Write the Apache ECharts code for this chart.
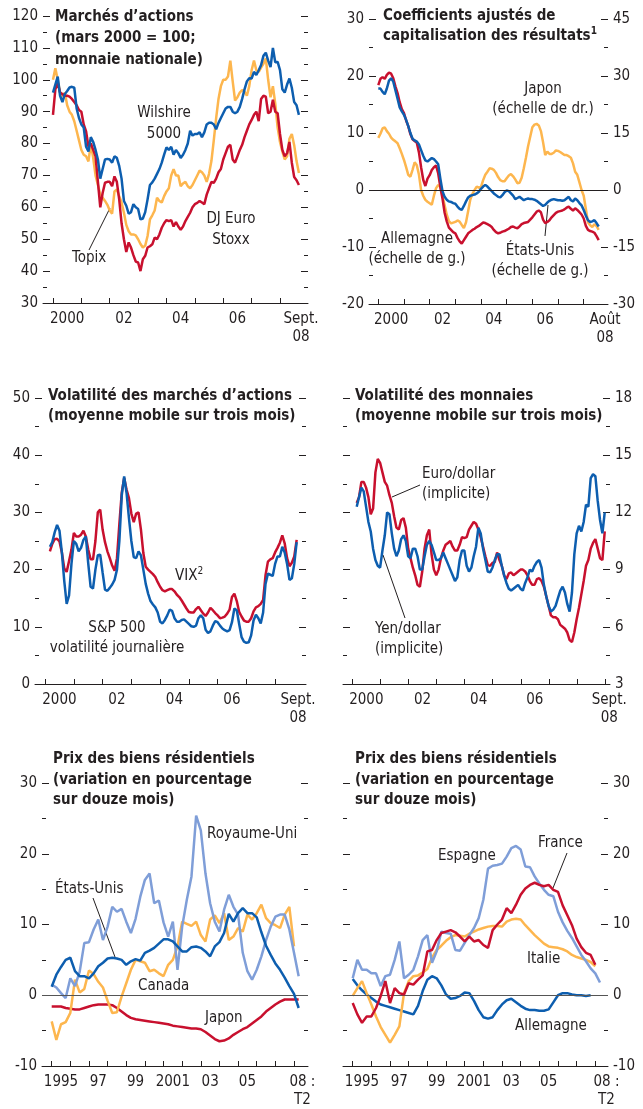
<!DOCTYPE html>
<html>
<head>
<meta charset="utf-8">
<script src="https://cdn.jsdelivr.net/npm/echarts@6/dist/echarts.min.js"></script>
<style>
html, body { margin: 0; padding: 0; background: #fff; }
#chart { width: 643px; height: 1109px; }
</style>
</head>
<body>
<div id="chart"></div>
<script>
// --- Marchés d'actions (mensuel, janv. 2000 - sept. 2008)
var wilshire = [
  96, 98.5, 101, 95, 93, 95.5, 96.5, 97.6, 97.8, 97.5, 91, 88,
  86, 85, 79, 77.5, 82, 80.5, 78, 75, 69, 72, 75, 75.2,
  75, 74, 76, 75.5, 73, 69, 62, 60.5, 58, 58.5, 61, 60,
  59.5, 56.2, 56.5, 58.5, 62.5, 67, 67.8, 69, 70.5, 72, 74, 76.5,
  78.8, 78, 79, 76.5, 78, 77, 75.5, 76.5, 78, 80, 84, 82.5,
  83, 83, 83.5, 82, 83.5, 86, 86.5, 86.5, 86, 84.5, 86.5, 88,
  89.5, 91, 91.5, 91.5, 90, 89.5, 90, 91.5, 94, 97, 99.5, 100.5,
  100.4, 102.5, 101.5, 103, 104.6, 107.5, 108.5, 106, 104, 110, 105.5, 105.6,
  103, 97, 96, 98.5, 100.4, 97.5, 93, 92, 89
];
var euroStoxx = [
  89, 97, 99, 96, 95.5, 95, 95, 94.7, 94, 93, 92, 90.5,
  90, 86, 83.8, 79, 80, 78, 76, 68, 60, 64.5, 67.7, 68,
  68, 66.6, 69.7, 68, 62.5, 55, 50, 46, 49, 47.4, 45, 43,
  42.7, 40, 43.7, 44.8, 47.4, 47.8, 48.4, 50.5, 50, 51.5, 53.6, 55,
  56, 55.7, 56, 54, 55.4, 54, 53, 54, 55.7, 57, 58.3, 60,
  61, 61.4, 62, 61.5, 61, 64, 66, 68, 67.7, 69, 71, 72,
  75, 77, 79, 79.6, 75, 74, 76, 78, 79.6, 82, 84, 86,
  87.4, 89, 90, 87, 94, 95, 94.7, 89.5, 90, 93.7, 90, 89.5,
  83, 78, 76, 77, 80.5, 74, 69.5, 68.5, 67
];
var topix = [
  100, 103.6, 100, 96, 94.7, 96, 92, 90, 89, 87, 84, 81,
  78, 76.5, 76, 74.4, 80, 75.5, 70, 67, 64, 63, 62, 60.8,
  59, 58, 65, 65.6, 63.5, 61.5, 58.3, 54.5, 52.5, 51.5, 51.5, 51.2,
  50, 48.5, 47.4, 48, 51, 56.2, 57.5, 59, 63, 62, 61.5, 63.5,
  65, 66, 70, 72, 70, 70, 66.6, 67.5, 68, 66.6, 66, 67,
  68.5, 70, 71.5, 71, 70, 68, 70.5, 74.5, 81, 88, 94, 98,
  100, 100, 101, 106, 99.5, 93.5, 94.5, 96, 96.8, 96.3, 95, 98,
  103, 106, 103, 102.5, 103.8, 105, 106.7, 100, 94.5, 98, 92.5, 85,
  80.5, 77.5, 75, 76, 81.5, 83, 79.5, 74.5, 70.8
];

// --- Coefficients ajustés de capitalisation (mensuel, janv. 2000 - août 2008)
var allemagneCap = [
  18.4, 19.5, 19.8, 19.5, 20.2, 20.6, 20.4, 19.6, 18.2, 17, 15.4, 14.2,
  13.5, 12.2, 11.2, 9.8, 8.9, 8.6, 8.3, 6.6, 4, 1.8, 0.7, 2,
  2.6, 3.5, 4, 4.3, 2.9, 0.5, -1.5, -4, -5.5, -6.6, -7, -7.4,
  -7.6, -8.4, -9, -9.4, -8.8, -8.2, -7.6, -7.3, -7, -6.8, -6.5, -6.3,
  -6, -5.7, -5.8, -6, -6.2, -6.5, -7, -7.4, -7.6, -7.5, -7.3, -7.2,
  -7, -6.8, -6.5, -6.4, -6.6, -6.7, -6.4, -6, -5.8, -5.7, -5.6, -5.2,
  -4.8, -4.3, -3.8, -3.6, -3.9, -5.2, -5.8, -5.6, -5.3, -4.8, -4.4, -4,
  -3.8, -3.7, -3.6, -3.4, -3.1, -2.9, -3.3, -3.6, -3.2, -3.5, -3.9, -4.3,
  -5, -6.3, -7, -7.2, -7.3, -7.5, -8.1, -8.8
];
var etatsUnisCap = [
  17.8, 17.8, 17.2, 16.8, 17.8, 19.2, 19.6, 19, 17.5, 16, 14.5, 13.8,
  13.2, 12.3, 11.2, 10, 9, 8.7, 8.5, 8, 7, 6, 5.2, 5,
  5.3, 5.6, 5.4, 5, 4.5, 2, -0.2, -1.2, -1.7, -2, -2.1, -2.3,
  -2.4, -2.9, -3.3, -3.5, -2.8, -2, -1.3, -1, -0.9, -0.8, -0.6, -0.3,
  0.2, 0.6, 0.9, 0.6, 0.2, -0.2, -0.6, -0.9, -1.2, -1.3, -0.9, -0.4,
  -0.1, -0.2, -0.6, -1, -1.6, -1.4, -1.2, -1.5, -1.8, -1.6, -1.5, -1.6,
  -1.6, -1.7, -1.9, -2.2, -2.5, -2.8, -2.6, -2.2, -1.9, -1.7, -1.6, -1.7,
  -1.8, -1.8, -1.9, -1.8, -1.5, -1.2, -1.8, -2, -1.5, -1.8, -2.3, -2.7,
  -3.5, -4.5, -5.3, -5.6, -5.5, -5.3, -5.8, -6.4
];
// Japon, échelle de droite
var japonCap = [
  13.7, 14.8, 16.2, 16.5, 15.5, 14.8, 13.8, 13.2, 12.8, 12.3, 11, 9.5,
  7.9, 6, 4, 3.5, 5.3, 7.3, 6.5, 4, 0, -1.5, -2.6, -3.1,
  -3.5, -3.9, -1.5, 0.5, 1.3, 0.8, -1.5, -4, -6.5, -8.2, -8.8, -8.6,
  -8.4, -8, -8.3, -9.2, -10, -8.5, -5.5, -2.5, -1, 0, 0.9, 0.6,
  0.8, 2.6, 4, 4.8, 5.7, 5.6, 5.3, 4.5, 3.4, 2.6, 2.3, 2.3,
  3.1, 3.8, 4.2, 3.6, 2.8, 1.8, 1.9, 3.2, 5.7, 8.5, 11.5, 14,
  16.5, 17.2, 17.4, 17, 15.5, 12.6, 9.2, 10.1, 9.5, 9.5, 9.8, 10.4,
  10.3, 10, 9.6, 9.2, 9.2, 8.9, 8.5, 7, 4.8, 4, 2, 0,
  -1.5, -5, -8.5, -9.3, -9.7, -9, -9.5, -10.5
];

// --- Volatilité des marchés d'actions (mensuel, à partir de mars 2000)
var vix = [
  23.2, 24.5, 25.3, 25.4, 24.9, 23, 20.2, 19.6, 21.5, 23.5, 26.4, 25.8,
  25.8, 26.1, 26.8, 25.8, 23.5, 21.8, 21.8, 25, 30, 30.5, 27, 24.8,
  23.2, 22, 20.7, 19.8, 22, 28, 33.5, 36, 34, 32.5, 29.8, 28.3,
  29.8, 30, 27, 22.9, 20.5, 20, 19.6, 19.2, 18.7, 17.8, 17, 16.4,
  16.2, 16.4, 16.6, 16.6, 16.2, 15.6, 15.2, 14.6, 13.9, 13.2, 12.6, 12.5,
  12.5, 13.1, 13.5, 12.9, 12.3, 11.9, 12.5, 13.3, 12.9, 12.4, 12, 11.5,
  11.6, 11.8, 12.3, 13, 15.2, 15.8, 14.5, 12.6, 11.8, 11.1, 10.9, 10.9,
  11.5, 12.7, 13.4, 13.6, 14, 14.7, 19, 21.4, 21.8, 22, 23, 23.8,
  24.7, 26, 24.6, 22, 20.6, 21.2, 22.3, 25.2
];
var sp500 = [
  24, 24.8, 26.5, 27.8, 26.8, 23, 18, 14, 15.5, 21, 25, 24.5,
  23.2, 23.8, 25.2, 25.8, 21.1, 17, 16.7, 20, 22.5, 22.6, 19.5, 16.5,
  16.3, 16.8, 17.4, 18.2, 20, 25, 33, 36.3, 33.4, 29, 25, 22.2,
  22, 23.2, 22.5, 20, 17.5, 15.8, 14.5, 13.9, 13.4, 12.5, 10.9, 10.6,
  11.2, 12, 13, 12.8, 11.5, 10.9, 10.9, 11.2, 11.3, 10.9, 10.5, 10.1,
  10, 10.2, 11.5, 12, 11.5, 9.5, 8.9, 9.2, 10.2, 11, 10.8, 10.2,
  9.7, 9.4, 9.2, 9.4, 10.8, 13.2, 12.9, 10.5, 8.2, 7.4, 7.2, 7.3,
  8.5, 11.1, 12.1, 11.5, 10.6, 12.5, 17.5, 19.3, 19.1, 18.9, 21, 22.3,
  22.3, 24, 23, 21, 18.2, 18.5, 21, 24.8
];

// --- Volatilité des monnaies (mensuel)
var euroDollar = [
  12.5, 12.8, 13.6, 13.6, 13.3, 12.8, 11.9, 12.2, 14.1, 14.8, 14.6, 14.1,
  13.6, 13.4, 12.9, 12.5, 11.8, 11.2, 11.1, 11.6, 11.7, 11.2, 10.1, 9.6,
  9.1, 8.7, 8.2, 8.1, 8.9, 10.1, 10.8, 11.1, 9.8, 9, 8.7, 9,
  9.6, 10, 10.3, 10.4, 10.5, 10.2, 10, 10, 10.3, 10.7, 10.65, 10.7,
  11.1, 11.3, 11.5, 11.4, 11.1, 10.7, 10.2, 9.7, 9.25, 9.2, 9.35, 9.4,
  9.9, 9.5, 9.2, 8.7, 8.5, 8.8, 8.85, 8.7, 8.8, 8.9, 9, 9,
  8.9, 8.7, 8.4, 8.2, 8.2, 8.5, 8.55, 8.4, 8.1, 7.6, 7.1, 6.6,
  6.5, 6.5, 6.4, 6.1, 6, 5.9, 5.7, 5.3, 5.2, 5.7, 6.4, 7,
  7.7, 8.4, 9.2, 9.5, 10.1, 10.4, 10.6, 10.1, 9.6, 9.5, 11
];
var yenDollar = [
  12.3, 12.8, 13.3, 13.1, 12.3, 11.5, 11, 10.1, 9.5, 9.2, 9.1, 10,
  10.8, 12, 11.9, 10.9, 10.1, 9.7, 10, 10.6, 10.8, 10.5, 9.7, 9.6,
  10.1, 10.1, 9.7, 9, 9, 9.7, 10.3, 10.5, 10.3, 9.9, 9.5, 9.5,
  9.6, 9.9, 9.6, 9.3, 9, 8.7, 8.4, 8.6, 9.5, 10, 10, 9.2,
  8.9, 9.1, 9.7, 10.2, 11.2, 10.9, 10.1, 9.5, 8.9, 8.85, 9.1, 9.5,
  9.8, 9.8, 9.2, 8.7, 8.3, 8, 7.9, 8, 8.1, 8.2, 8, 7.9,
  8.3, 8.6, 9, 8.9, 9.2, 9.4, 9.5, 9.1, 8.2, 7.6, 7.1, 6.8,
  6.9, 7.1, 7.5, 7.9, 8.1, 7.8, 7.2, 6.8, 7.8, 9.8, 10.9, 11.3,
  11, 11.5, 12.4, 12.3, 13.8, 14, 13.9, 12.6, 11.6, 10.9, 12
];

// --- Prix des biens résidentiels (trimestriel, T1 1995 - T2 2008)
var royaumeUni = [1.5, 1.1, 0.3, -0.4, 2.4, 1.3, 3.3, 7.4, 7.5, 9.3, 10.7, 7.8, 9.7, 12.5, 11.8, 12.2, 10.4, 8.8, 10.8, 13.9, 16.3, 17.2, 13, 13.4, 10.3, 8.3, 10.4, 3.6, 9.7, 13.5, 16.8, 25.4, 23.3, 17.2, 13, 10.4, 9, 12.1, 14.2, 12.5, 11.4, 6, 3.4, 2.2, 3.6, 5.5, 7.8, 9.7, 11.1, 11.4, 11.4, 9.3, 6, 2.7];
var canada = [-3.7, -6.3, -4.1, -3.8, -2.5, 2.2, 0.4, 0.9, 3.5, 3, 1.9, 1.1, -0.8, -2.5, -2.4, -0.2, 1.7, 3.6, 5, 4.8, 4.6, 3.4, 3.6, 3.1, 2.7, 4.3, 5, 6.9, 10.4, 10.1, 9.8, 10.4, 8.5, 7.6, 10.7, 11.3, 10.2, 11.6, 7.8, 8.3, 9.5, 9, 11.4, 10.7, 11.6, 12.8, 10.9, 10.2, 9.9, 9.5, 11.4, 12.5, 6.9];
var etatsUnisHP = [1.2, 2.9, 4, 5, 5.3, 3.4, 2.7, 2.7, 2.4, 3.1, 4.1, 4.6, 5.2, 5.3, 5.2, 5, 4.3, 4.8, 5.1, 4.9, 6, 6.3, 6.7, 7.3, 7.9, 7.9, 7.6, 6.9, 6.2, 6.2, 6.8, 6.9, 6.7, 6.2, 5.5, 6.9, 7.5, 8.8, 11.5, 10.4, 11.6, 12.3, 11.6, 11.6, 11, 8.9, 7, 5.7, 4.5, 3.6, 2.5, 1.3, 0.2, -1.8];
var japonHP = [-1.6, -1.6, -1.6, -1.8, -1.9, -2, -2, -1.8, -1.6, -1.4, -1.3, -1.3, -1.3, -1.4, -1.8, -2.3, -2.8, -3.2, -3.4, -3.5, -3.6, -3.7, -3.8, -3.9, -4, -4.1, -4.3, -4.4, -4.5, -4.6, -4.7, -4.7, -4.8, -5.2, -5.7, -6.2, -6.5, -6.4, -6.1, -5.6, -5.2, -4.8, -4.5, -4, -3.5, -3, -2.3, -1.8, -1.3, -0.9, -0.6, -0.6, -0.6, -0.6];
var espagne = [2.4, 5, 3.6, 3.6, 3.1, 3.1, 1.3, 2.7, 2.9, 5, 7.6, 2.4, 2.9, 3.6, 5.5, 7.8, 8.5, 4.6, 6.2, 9, 8.8, 8.7, 6.4, 6.3, 7.4, 8.5, 9.5, 10.9, 13.5, 17.9, 18.3, 18.4, 18.6, 19.6, 20.8, 21.1, 20.6, 18.2, 18.1, 16.8, 15.8, 14.9, 14.2, 14, 11.8, 10.3, 9.1, 8.1, 6.9, 5.7, 4.8, 3.8, 3.1, 1.8];
var france = [-1.1, -2.7, -3.9, -3, -3, -1.8, -0.1, 2, -1.1, 1, 0.3, 0.1, 1.7, 1.5, 2.2, 2.8, 6.2, 6.4, 7.8, 8.8, 9, 9.2, 8.9, 8.3, 7.6, 8.3, 7.6, 7.8, 7.1, 6.7, 9.2, 10, 10.7, 12.3, 11.6, 12.8, 14.2, 15.1, 15.6, 15.9, 15.6, 15.4, 15.6, 14.9, 14.6, 12.7, 11.3, 9.9, 8, 6.8, 6, 5.7, 4.3];
var italie = [-0.1, 1, 2, 0.3, -1.3, -3, -4.5, -5.6, -6.7, -5.6, -4.4, 0.3, 2, 2.7, 2.8, 3.2, 3.7, 5.3, 6.4, 7, 7.7, 8.2, 8.5, 8.4, 8.3, 8.7, 9, 9.3, 9.5, 9.7, 9.8, 9.8, 9.7, 10.4, 10.7, 10.8, 10.7, 9.9, 9.2, 8.5, 7.9, 7.3, 6.9, 6.8, 6.7, 6.5, 6.2, 5.7, 5.4, 5.2, 5, 4.7, 4.1];
var allemagneHP = [2.3, 1.4, 0.7, 0.1, -0.4, -0.9, -1.3, -1.5, -1.7, -1.9, -2.1, -2.3, -2.5, -2.7, -1.5, 0.6, 2.2, 2.7, 2.4, 1.4, 0.1, -0.5, -0.4, -0.1, 0.4, 0.3, -0.8, -2.1, -3.1, -3.3, -3.1, -2.1, -1.3, -0.7, -0.5, -1, -1.5, -1.9, -2.1, -2.1, -2.2, -2.2, -2, -1, 0, 0.3, 0.3, 0.1, 0, 0, -0.1, 0];

// axes : repères d'années et libellés
var yearTicks2000 = [2000, 2001, 2002, 2003, 2004, 2005, 2006, 2007, 2008];
var yearTicks2000b = [2000, 2001, 2002, 2003, 2004, 2005, 2006, 2007, 2008, 2009];
var yearTicks1995 = [1995, 1996, 1997, 1998, 1999, 2000, 2001, 2002, 2003, 2004, 2005, 2006, 2007, 2008];
var labels2000 = ['2000', '02', '04', '06'];
var labelPos2000 = [2000.5, 2002.5, 2004.5, 2006.5];
var labels1995 = ['1995', '97', '99', '2001', '03', '05'];
var labelPos1995 = [1995.5, 1997.5, 1999.5, 2001.5, 2003.5, 2005.5];

var FONT = "'Liberation Sans Narrow', 'DejaVu Sans Condensed', 'Arial Narrow', sans-serif";
var FS = 15;
var INK = '#231f20';
var RED = '#c8102e', BLUE = '#0d5eaf', YELLOW = '#fdb64e', LIGHTBLUE = '#7f9ed8';

function toXY(start, step, values) {
    return values.map(function (v, i) { return [start + i * step, v]; });
}

function xAxisFor(grid, min, max, ticks, pos, texts) {
    var lookup = {};
    pos.forEach(function (p, i) { lookup[p.toFixed(3)] = texts[i]; });
    return {
        type: 'value', gridIndex: grid, min: min, max: max,
        axisLine: { show: true, onZero: false, lineStyle: { color: INK, width: 1 } },
        axisTick: { show: true, inside: true, length: 5, customValues: ticks, lineStyle: { color: INK } },
        axisLabel: {
            show: true, customValues: pos, color: INK, fontFamily: FONT, fontSize: FS,
            margin: 7, lineHeight: 18,
            formatter: function (v) { return lookup[Number(v).toFixed(3)] || ''; }
        },
        splitLine: { show: false }
    };
}

function yAxisFor(grid, position, min, max, interval, showLabels) {
    return {
        type: 'value', gridIndex: grid, position: position,
        min: min, max: max, interval: interval,
        axisLine: { show: false },
        axisTick: { show: true, inside: true, length: 7, lineStyle: { color: INK } },
        minorTick: { show: true, splitNumber: 2, length: 4, lineStyle: { color: INK } },
        axisLabel: { show: showLabels, color: INK, fontFamily: FONT, fontSize: FS, margin: 5 },
        splitLine: { show: false }
    };
}

function line(xi, yi, data, color, z) {
    return {
        type: 'line', xAxisIndex: xi, yAxisIndex: yi, data: data,
        showSymbol: false, symbol: 'none', silent: true, z: z,
        lineStyle: { color: color, width: 2.5 }
    };
}

function zeroLine(color) {
    return {
        silent: true, symbol: ['none', 'none'], label: { show: false },
        lineStyle: { color: color, width: 1, type: 'solid' },
        data: [{ yAxis: 0 }]
    };
}

function text(x, y, str, opts) {
    return {
        type: 'text', x: x, y: y, silent: true,
        style: Object.assign({
            text: str, fill: INK, fontFamily: FONT, fontSize: FS,
            lineHeight: 20, align: 'left', verticalAlign: 'top'
        }, opts || {})
    };
}

function title(x, y, str, lh) {
    return text(x, y, str, {
        fontWeight: 'bold', lineHeight: lh || 21,
        rich: { sup: { fontSize: 10, fontWeight: 'bold', fontFamily: FONT, verticalAlign: 'top', fill: INK } }
    });
}

function leader(x1, y1, x2, y2) {
    return { type: 'line', silent: true, shape: { x1: x1, y1: y1, x2: x2, y2: y2 }, style: { stroke: INK, lineWidth: 1 } };
}

var m = 1 / 12, q = 1 / 4;

var option = {
    animation: false,
    backgroundColor: '#fff',
    grid: [
        { left: 43, top: 16, width: 265, height: 287 },
        { left: 369, top: 19, width: 239, height: 285 },
        { left: 35, top: 398, width: 271, height: 286 },
        { left: 343, top: 398, width: 267, height: 286 },
        { left: 42, top: 783, width: 266, height: 284 },
        { left: 343, top: 783, width: 265, height: 284 }
    ],
    xAxis: [
        xAxisFor(0, 1999.648, 2008.987, yearTicks2000, labelPos2000.concat([2008.74]), labels2000.concat(['Sept.\n08'])),
        xAxisFor(1, 1999.638, 2008.946, yearTicks2000, labelPos2000.concat([2008.83]), labels2000.concat(['Août\n08'])),
        xAxisFor(2, 1999.652, 2009.078, yearTicks2000, labelPos2000.concat([2008.8]), labels2000.concat(['Sept.\n08'])),
        xAxisFor(3, 1999.669, 2009.178, yearTicks2000b, labelPos2000.concat([2009.15]), labels2000.concat(['Sept.\n08'])),
        xAxisFor(4, 1994.48, 2008.751, yearTicks1995, labelPos1995.concat([2008.45]), labels1995.concat(['08 :\nT2'])),
        xAxisFor(5, 1994.48, 2008.68, yearTicks1995, labelPos1995.concat([2008.6]), labels1995.concat(['08 :\nT2']))
    ],
    yAxis: [
        yAxisFor(0, 'left', 30, 120, 10, true),
        yAxisFor(0, 'right', 30, 120, 10, false),
        yAxisFor(1, 'left', -20, 30, 10, true),
        yAxisFor(1, 'right', -30, 45, 15, true),
        yAxisFor(2, 'left', 0, 50, 10, true),
        yAxisFor(2, 'right', 0, 50, 10, false),
        yAxisFor(3, 'left', 3, 18, 3, false),
        yAxisFor(3, 'right', 3, 18, 3, true),
        yAxisFor(4, 'left', -10, 30, 10, true),
        yAxisFor(4, 'right', -10, 30, 10, false),
        yAxisFor(5, 'left', -10, 30, 10, false),
        yAxisFor(5, 'right', -10, 30, 10, true)
    ],
    series: [
        line(0, 0, toXY(2000, m, topix), YELLOW, 2),
        line(0, 0, toXY(2000, m, euroStoxx), RED, 3),
        line(0, 0, toXY(2000, m, wilshire), BLUE, 4),

        Object.assign(line(1, 3, toXY(2000, m, japonCap), YELLOW, 2), { markLine: zeroLine(INK) }),
        line(1, 2, toXY(2000, m, allemagneCap), RED, 3),
        line(1, 2, toXY(2000, m, etatsUnisCap), BLUE, 4),

        line(2, 4, toXY(2000.17, m, vix), RED, 3),
        line(2, 4, toXY(2000.17, m, sp500), BLUE, 4),

        line(3, 7, toXY(2000.157, m, euroDollar), RED, 3),
        line(3, 7, toXY(2000.157, m, yenDollar), BLUE, 4),

        Object.assign(line(4, 8, toXY(1995, q, japonHP), RED, 2), { markLine: zeroLine('#555') }),
        line(4, 8, toXY(1995, q, canada), YELLOW, 3),
        line(4, 8, toXY(1995, q, royaumeUni), LIGHTBLUE, 4),
        line(4, 8, toXY(1995, q, etatsUnisHP), BLUE, 5),

        Object.assign(line(5, 11, toXY(1995, q, allemagneHP), BLUE, 2), { markLine: zeroLine('#555') }),
        line(5, 11, toXY(1995, q, italie), YELLOW, 3),
        line(5, 11, toXY(1995, q, espagne), LIGHTBLUE, 4),
        line(5, 11, toXY(1995, q, france), RED, 5)
    ],
    graphic: [
        title(55, 6, 'Marchés d’actions\n(mars 2000 = 100;\nmonnaie nationale)', 21.5),
        text(164, 103, 'Wilshire\n5000', { align: 'center', lineHeight: 21 }),
        text(231, 209, 'DJ Euro\nStoxx', { align: 'center', lineHeight: 21 }),
        text(72, 248, 'Topix'),
        leader(89, 250, 110, 208),

        title(383, 6, 'Coefficients ajustés de\ncapitalisation des résultats{sup|1}', 20),
        text(543, 79, 'Japon\n(échelle de dr.)', { align: 'center' }),
        text(417, 229, 'Allemagne\n(échelle de g.)', { align: 'center' }),
        text(540, 241, 'États-Unis\n(échelle de g.)', { align: 'center' }),
        leader(545, 236, 548, 205),

        title(48, 386, 'Volatilité des marchés d’actions\n(moyenne mobile sur trois mois)', 20),
        text(175, 566, 'VIX{sup|2}', { rich: { sup: { fontSize: 10, fontFamily: FONT, verticalAlign: 'top', fill: INK } } }),
        text(117, 618, 'S&P 500\nvolatilité journalière', { align: 'center' }),

        title(355, 386, 'Volatilité des monnaies\n(moyenne mobile sur trois mois)', 20),
        text(422, 464, 'Euro/dollar\n(implicite)'),
        leader(420, 485, 392, 497),
        text(375, 619, 'Yen/dollar\n(implicite)'),
        leader(383, 555, 405, 618),

        title(53, 749, 'Prix des biens résidentiels\n(variation en pourcentage\nsur douze mois)', 20.5),
        text(207, 824, 'Royaume-Uni'),
        text(55, 879, 'États-Unis'),
        leader(93, 898, 115, 957),
        text(138, 976, 'Canada'),
        text(205, 1008, 'Japon'),

        title(355, 749, 'Prix des biens résidentiels\n(variation en pourcentage\nsur douze mois)', 20.5),
        text(438, 846, 'Espagne'),
        text(538, 833, 'France'),
        leader(567, 853, 553, 888),
        text(527, 949, 'Italie'),
        text(515, 1016, 'Allemagne')
    ]
};

var myChart = echarts.init(document.getElementById('chart'), null, { renderer: 'canvas' });
myChart.setOption(option);
</script>
</body>
</html>
